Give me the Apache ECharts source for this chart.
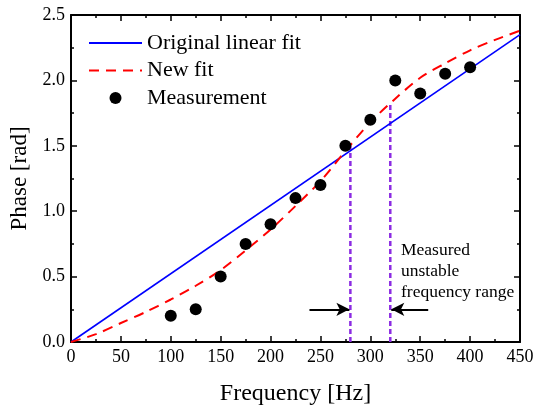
<!DOCTYPE html>
<html><head><meta charset="utf-8">
<script src="https://cdn.jsdelivr.net/npm/echarts@6/dist/echarts.min.js"></script>
<style>html,body{margin:0;padding:0;background:#fff}#c{width:533px;height:406px}</style>
</head><body><div id="c"></div>
<script>
const measFreq = [100,125,150,175,200,225,250,275,300,325,350,375,400];
const measPhase = [0.20,0.25,0.50,0.75,0.90,1.10,1.20,1.50,1.70,2.00,1.90,2.05,2.10];
const linFreq = [0,450];
const linPhase = [0,2.35];
const fitFreq = [0,25,50,75,100,125,150,175,200,225,250,275,300,325,350,375,400,425,450];
const fitPhase = [0,0.06,0.145,0.23,0.325,0.43,0.55,0.70,0.86,1.04,1.23,1.46,1.68,1.86,2.02,2.13,2.23,2.31,2.38];
const rangeFreq = [280,320];
const rangeTop = [1.50,1.82];
const arrowY = 0.25;
const arrowLeft = [239,279];
const arrowRight = [358,321];
const xTicks = [0,450,50];
const yTicks = [0,2.5,0.5];

const F = "'Liberation Serif', 'Times New Roman', serif";
const zip = (a,b)=>a.map((v,i)=>[v,b[i]]);
const chart = echarts.init(document.getElementById('c'));
const axLine = {show:true,onZero:false,lineStyle:{color:'#000',width:2}};
const tick = {show:true,inside:true,length:6,lineStyle:{color:'#000',width:1.5}};
const minor = {show:true,splitNumber:2,length:3,lineStyle:{color:'#000',width:1.5}};
const vlines = rangeFreq.map((f,i)=>({
  type:'line', data:[[f,0],[f,rangeTop[i]]], symbol:'none', silent:true,
  lineStyle:{color:'#8B2BE2',width:2.5,type:[5,3]}, z:1
}));
const hidden = {opacity:0};
chart.setOption({
  animation:false,
  grid:{left:71,right:13,top:15,bottom:64,outerBoundsMode:'none',containLabel:false},
  legend:{orient:'vertical',left:83,top:27,itemGap:5.5,itemWidth:53,itemHeight:12,
    textStyle:{fontFamily:F,fontSize:22,color:'#000',lineHeight:22},
    data:[{name:'Original linear fit',itemStyle:hidden},{name:'New fit',itemStyle:hidden},{name:'Measurement'}]},
  xAxis:[
    {type:'value',min:xTicks[0],max:xTicks[1],interval:xTicks[2],position:'bottom',
     name:'Frequency [Hz]',nameLocation:'middle',nameGap:40,
     nameTextStyle:{fontFamily:F,fontSize:24,color:'#000'},
     axisLine:axLine,axisTick:tick,minorTick:minor,splitLine:{show:false},
     axisLabel:{fontFamily:F,fontSize:18,color:'#000',margin:6}},
    {type:'value',min:xTicks[0],max:xTicks[1],interval:xTicks[2],position:'top',
     axisLine:axLine,axisTick:tick,minorTick:minor,splitLine:{show:false},axisLabel:{show:false}}
  ],
  yAxis:[
    {type:'value',min:yTicks[0],max:yTicks[1],interval:yTicks[2],position:'left',
     name:'Phase [rad]',nameLocation:'middle',nameGap:34,
     nameTextStyle:{fontFamily:F,fontSize:23,color:'#000'},
     axisLine:axLine,axisTick:tick,minorTick:minor,splitLine:{show:false},
     axisLabel:{fontFamily:F,fontSize:18,color:'#000',margin:6,formatter:v=>v.toFixed(1)}},
    {type:'value',min:yTicks[0],max:yTicks[1],interval:yTicks[2],position:'right',
     axisLine:axLine,axisTick:tick,minorTick:minor,splitLine:{show:false},axisLabel:{show:false}}
  ],
  graphic:[{type:'text',left:401,top:240,style:{text:'Measured\nunstable\nfrequency range',
    font:'17.5px '+F,fill:'#000',lineHeight:21}}],
  series:[
    ...vlines,
    {name:'Original linear fit',type:'line',data:zip(linFreq,linPhase),symbol:'none',
     lineStyle:{color:'#0000FF',width:1.6},itemStyle:{color:'#0000FF'},z:3},
    {name:'New fit',type:'line',data:zip(fitFreq,fitPhase),symbol:'none',smooth:0.3,
     lineStyle:{color:'#FF0000',width:2,type:[10,7]},itemStyle:{color:'#FF0000'},z:3},
    {name:'Measurement',type:'scatter',data:zip(measFreq,measPhase),symbol:'circle',symbolSize:12,
     itemStyle:{color:'#000',opacity:1},z:4,
     markLine:{silent:true,symbol:['none','arrow'],symbolSize:[10,13],label:{show:false},
       lineStyle:{color:'#000',width:1.8,type:'solid'},emphasis:{disabled:true},
       data:[
         [{coord:[arrowLeft[0],arrowY]},{coord:[arrowLeft[1],arrowY]}],
         [{coord:[arrowRight[0],arrowY]},{coord:[arrowRight[1],arrowY]}]
       ]}}
  ]
});
</script></body></html>
